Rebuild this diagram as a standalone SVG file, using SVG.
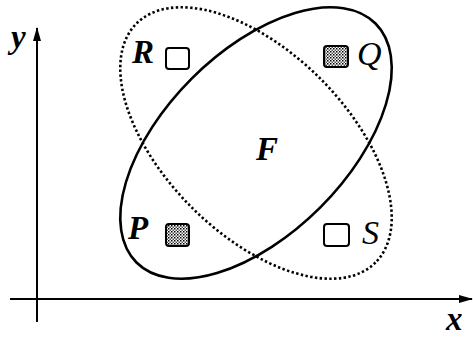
<svg xmlns="http://www.w3.org/2000/svg" width="473" height="337" viewBox="0 0 473 337">
<defs>
<pattern id="stip" width="3" height="3" patternUnits="userSpaceOnUse">
<rect width="3" height="3" fill="#ffffff"/>
<rect x="0" y="0" width="1.5" height="1.5" fill="#000"/>
<rect x="1.5" y="1.5" width="1.5" height="1.5" fill="#555"/>
</pattern>
<marker id="arr" viewBox="0 0 14 8" refX="13" refY="4" markerWidth="14" markerHeight="8" markerUnits="userSpaceOnUse" orient="auto">
<path d="M0,0 L14,4 L0,8 Z" fill="#000"/>
</marker>
<style>
.ax{stroke:#000;stroke-width:2;fill:none}
.solid{stroke:#000;stroke-width:2.6;fill:none}
.dot{stroke:#000;stroke-width:2.6;fill:none;stroke-dasharray:2.4 2.4}
.box{stroke:#000;stroke-width:2;fill:#fff}
.shade{stroke:#000;stroke-width:2;fill:url(#stip)}
.lb{font-family:"Liberation Serif",serif;font-style:italic;font-weight:bold;font-size:33px;fill:#000}
.lr{font-family:"Liberation Serif",serif;font-style:italic;font-size:34px;fill:#000}
</style>
</defs>
<g id="connectors">
<line class="ax" x1="37" y1="322" x2="37" y2="28" marker-end="url(#arr)"/>
<line class="ax" x1="10" y1="299" x2="472" y2="299" marker-end="url(#arr)"/>
</g>
<g id="ellipse-solid">
<ellipse class="solid" cx="256" cy="143" rx="169" ry="91" transform="rotate(-45 256 143)"/>
</g>
<g id="ellipse-dotted">
<ellipse class="dot" cx="256" cy="143" rx="169" ry="91" transform="rotate(45 256 143)"/>
</g>
<g id="axis-y-label"><text class="lb" x="11" y="48">y</text></g>
<g id="axis-x-label"><text class="lb" x="446" y="330">x</text></g>
<g id="node-R">
<text class="lb" x="132" y="63">R</text>
<rect class="box" x="166" y="48" width="23" height="21" rx="3"/>
</g>
<g id="node-Q">
<rect class="shade" x="324" y="46" width="24" height="21" rx="3"/>
<text class="lr" x="357" y="65">Q</text>
</g>
<g id="node-P">
<text class="lb" x="128" y="239">P</text>
<rect class="shade" x="166" y="224" width="23" height="22" rx="3"/>
</g>
<g id="node-S">
<rect class="box" x="324" y="224" width="25" height="22" rx="3"/>
<text class="lr" x="362" y="244">S</text>
</g>
<g id="node-F"><text class="lb" x="256" y="160">F</text></g>
</svg>
